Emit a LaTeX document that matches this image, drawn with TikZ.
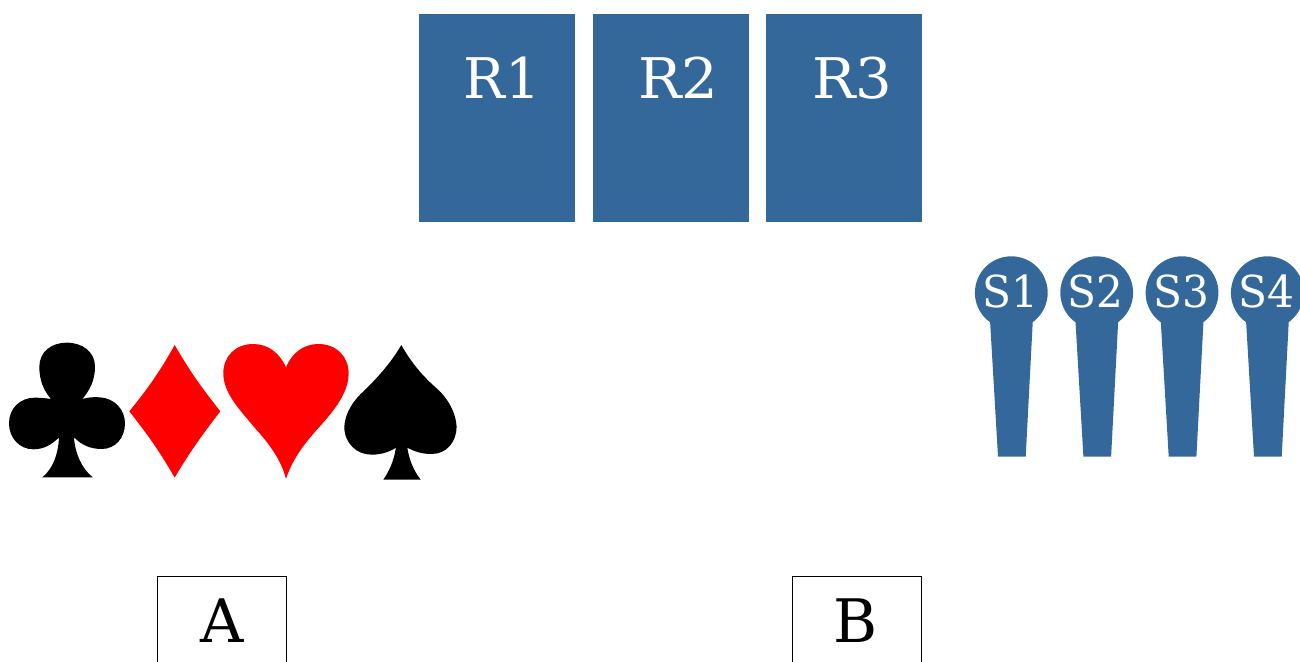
\documentclass[tikz,border=0pt]{standalone}
\usepackage{fontspec}
\setmainfont{DejaVu Serif}
\definecolor{pinblue}{HTML}{35689A}
\tikzset{
  roombox/.style={fill=pinblue,draw=none,inner sep=0pt,minimum width=156pt,minimum height=208pt},
  roomlabel/.style={text=white,inner sep=0pt,xscale=1.03,font=\fontsize{56}{60}\selectfont},
  pinshape/.style={fill=pinblue,draw=none},
  pinlabel/.style={text=white,inner sep=0pt,xscale=.96,font=\fontsize{44}{48}\selectfont},
  playerbox/.style={draw=black,line width=1pt,fill=white,inner sep=0pt,minimum width=129pt,minimum height=110pt},
  playerlabel/.style={text=black,inner sep=0pt,xscale=1,font=\fontsize{60}{64}\selectfont}
}
\newcommand{\pin}[3]{%
  \fill[pinshape] (#1,292.7) circle[radius=36.4pt];
  \fill[pinshape] (#1-21.6,315) -- (#1+21.8,315) -- (#1+14.4,456.7) -- (#1-13.3,456.7) -- cycle;
  \node[pinlabel] (#2) at (#1-1,291) {#3};
}
\begin{document}
\begin{tikzpicture}[x=1pt,y=-1pt]
\useasboundingbox (0,0) rectangle (1300,661);
\node[roombox] (r1) at (497,118) {};
\node[roombox] (r2) at (671,118) {};
\node[roombox] (r3) at (844,118) {};
\node[roomlabel,xscale=.96] (r1t) at (502,78) {R1};
\node[roomlabel] (r2t) at (678.5,78) {R2};
\node[roomlabel] (r3t) at (852.5,78) {R3};
\pin{1011.3}{s1}{S1}
\pin{1096.7}{s2}{S2}
\pin{1182}{s3}{S3}
\pin{1267.3}{s4}{S4}
\node[playerbox] (a) at (221.5,631.5) {};
\node[playerbox] (b) at (856.5,631.5) {};
\node[playerlabel] (at) at (222,621) {A};
\node[playerlabel] (bt) at (856,621) {B};
% club
\fill[black,x=.3333pt,y=-.3333pt,shift={(0pt,-330pt)}] (153,207) .. controls (130,180) and (118,150) .. (118,110)
  .. controls (118,65) and (155,38) .. (200,38)
  .. controls (247,38) and (285,65) .. (285,110)
  .. controls (285,150) and (270,180) .. (247,207)
  .. controls (262,203) and (280,200) .. (300,202)
  .. controls (345,205) and (375,240) .. (375,280)
  .. controls (375,325) and (345,357) .. (305,357)
  .. controls (270,357) and (245,345) .. (222,322)
  .. controls (225,370) and (245,415) .. (278,442)
  -- (127,442)
  .. controls (160,415) and (175,370) .. (177,322)
  .. controls (155,345) and (130,358) .. (100,358)
  .. controls (60,358) and (27,325) .. (27,280)
  .. controls (27,235) and (60,203) .. (105,203)
  .. controls (122,203) and (140,205) .. (153,207) -- cycle;
% diamond
\fill[red,x=.3333pt,y=-.3333pt,shift={(0pt,-330pt)}] (524,45) .. controls (480,125) and (440,180) .. (388,244)
  .. controls (440,310) and (480,365) .. (524,443)
  .. controls (570,365) and (610,310) .. (661,244)
  .. controls (610,180) and (570,125) .. (524,45) -- cycle;
% heart
\fill[red,x=.3333pt,y=-.3333pt,shift={(0pt,-330pt)}] (858,112) .. controls (840,70) and (805,42) .. (760,42)
  .. controls (705,42) and (670,80) .. (670,130)
  .. controls (670,190) and (720,240) .. (770,300)
  .. controls (815,350) and (845,395) .. (858,447)
  .. controls (875,395) and (905,350) .. (950,300)
  .. controls (1000,245) and (1046,190) .. (1046,130)
  .. controls (1046,80) and (1010,42) .. (955,42)
  .. controls (910,42) and (875,70) .. (858,112) -- cycle;
% spade
\fill[black,x=.3333pt,y=-.3333pt,shift={(0pt,-330pt)}] (1204,45) .. controls (1175,95) and (1140,135) .. (1095,180)
  .. controls (1060,210) and (1035,250) .. (1033,290)
  .. controls (1033,340) and (1070,374) .. (1115,374)
  .. controls (1145,374) and (1170,365) .. (1188,353)
  .. controls (1182,390) and (1170,420) .. (1150,449)
  -- (1262,449)
  .. controls (1240,420) and (1228,390) .. (1222,353)
  .. controls (1245,365) and (1265,372) .. (1295,372)
  .. controls (1340,372) and (1370,335) .. (1370,290)
  .. controls (1368,250) and (1345,205) .. (1310,175)
  .. controls (1270,140) and (1235,100) .. (1204,45) -- cycle;
\end{tikzpicture}
\end{document}
